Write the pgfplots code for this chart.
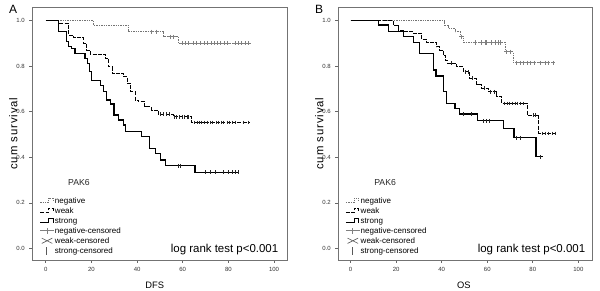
\documentclass[border=0pt]{standalone}
\usepackage{fontspec}
\setmainfont{Liberation Sans}
\newfontfamily\spaced[LetterSpace=8]{Liberation Sans}
\usepackage{pgfplots}
\pgfplotsset{compat=1.18}
\tikzset{
  negline/.style={black!55, line width=0.6pt, dash pattern=on 1pt off 0.8pt},
  weakline/.style={black, line width=0.7pt, dash pattern=on 3pt off 1pt},
  strongline/.style={black, line width=0.9pt},
  negcens/.style={only marks, mark=+, mark size=1.6pt, black!50, mark options={line width=0.4pt, solid}},
  blkcens/.style={only marks, mark=|, mark size=1.4pt, black!85, mark options={line width=0.45pt, solid}},
}
\pgfplotsset{kmaxis/.style={
  scale only axis, height=189.5pt,
  ymin=-0.051, ymax=1.059,
  xtick={0,20,40,60,80,100}, ytick={0,0.2,0.4,0.6,0.8,1},
  yticklabel style={/pgf/number format/.cd, fixed, fixed zerofill, precision=1},
  /pgf/number format/assume math mode=true,
  tick label style={font=\fontsize{4.5}{5}\selectfont, text=black!80},
  tick align=outside, tick pos=left, major tick length=2.2pt,
  every tick/.style={black!60, line width=0.5pt},
  axis line style={black!55, line width=0.6pt},
  ylabel={\spaced cum survival},
  ylabel style={font=\fontsize{8.5}{10}\selectfont, at={(axis description cs:-0.0745,0.5)}, anchor=center},
  xlabel style={font=\fontsize{7}{8}\selectfont, anchor=center},
  legend style={draw=none, fill=none, font=\fontsize{6}{7}\selectfont,
    nodes={inner sep=0.6pt, text height=4.8pt, text depth=1.2pt}, row sep=0.3pt, anchor=north west},
  legend cell align=left,
  clip=false,
}}
\newcommand{\kmlegend}{%
  \addlegendimage{negline, legend image code/.code={\draw[negline] (0cm,-0.05cm) -- (0.22cm,-0.05cm) -- (0.22cm,0.07cm) -- (0.34cm,0.07cm) -- (0.34cm,0.0cm);}}
  \addlegendentry{negative}
  \addlegendimage{weakline, legend image code/.code={\draw[weakline] (0cm,-0.05cm) -- (0.22cm,-0.05cm) -- (0.22cm,0.07cm) -- (0.34cm,0.07cm) -- (0.34cm,0.0cm);}}
  \addlegendentry{weak}
  \addlegendimage{strongline, legend image code/.code={\draw[strongline] (0cm,-0.05cm) -- (0.22cm,-0.05cm) -- (0.22cm,0.07cm) -- (0.34cm,0.07cm) -- (0.34cm,-0.05cm);}}
  \addlegendentry{strong}
  \addlegendimage{black!50, line width=0.45pt, legend image code/.code={\draw[black!50, line width=0.45pt] (0cm,0cm) -- (0.36cm,0cm) (0.18cm,-0.08cm) -- (0.18cm,0.08cm);}}
  \addlegendentry{negative-censored}
  \addlegendimage{black!65, line width=0.45pt, legend image code/.code={\draw[black!65, line width=0.45pt] (0.04cm,-0.07cm) -- (0.32cm,0.07cm) (0.04cm,0.07cm) -- (0.32cm,-0.07cm);}}
  \addlegendentry{weak-censored}
  \addlegendimage{black!65, line width=0.45pt, legend image code/.code={\path[draw=none] (0cm,0cm) rectangle (0.36cm,0.01cm); \draw[black!65, line width=0.45pt] (0.17cm,-0.1cm) -- (0.17cm,0.1cm);}}
  \addlegendentry{strong-censored}
}
\begin{document}
\begin{tikzpicture}
\path[use as bounding box] (0,0) rectangle (450pt,218.25pt);
% ---------------- Panel A ----------------
\begin{axis}[kmaxis, at={(24.225pt,23.25pt)}, anchor=south west,
  width=191.25pt, xmin=-5.9, xmax=105.8, xlabel={DFS},
  xlabel style={at={(axis description cs:0.48,-0.099)}},
  legend style={at={(axis description cs:0.012,0.265)}}]
\addplot[negline, const plot, forget plot] coordinates {(0,1)(20.9,0.98)(36.2,0.952)(51.5,0.93)(58.1,0.901)(88.8,0.901)};
\addplot[weakline, const plot, forget plot] coordinates {(0,1)(5.5,0.989)(9.9,0.937)(12,0.927)(16.5,0.90)(18,0.871)(19.4,0.854)(26.0,0.835)(27.5,0.798)(29.0,0.769)(34.0,0.754)(35.7,0.725)(37.2,0.688)(39.1,0.652)(40.5,0.644)(43.4,0.622)(46.3,0.608)(49.2,0.590)(55.8,0.578)(64.0,0.553)(89.5,0.553)};
\addplot[strongline, const plot, forget plot] coordinates {(0,1)(5.5,0.952)(9.2,0.908)(9.9,0.886)(11.4,0.879)(12.8,0.857)(17.2,0.835)(18.2,0.813)(19.1,0.776)(20.1,0.739)(23.8,0.717)(25.2,0.688)(26.7,0.652)(28.2,0.634)(29.9,0.586)(32,0.564)(34.0,0.542)(35.0,0.512)(42.0,0.490)(45.4,0.439)(47.9,0.417)(50.1,0.388)(52.3,0.363)(65.4,0.334)(84.4,0.334)};
\addplot[negcens, forget plot] coordinates {(46.4,0.952)(48.6,0.952)(54.5,0.93)(55.9,0.93)(59.6,0.901)(61.0,0.901)(62.5,0.901)(64.7,0.901)(66.1,0.901)(67.6,0.901)(69.3,0.901)(70.8,0.901)(72.3,0.901)(73.7,0.901)(75.2,0.901)(76.6,0.901)(78.1,0.901)(79.6,0.901)(82.9,0.901)(84.4,0.901)(85.8,0.901)(87.3,0.901)(88.8,0.901)};
\addplot[blkcens, forget plot] coordinates {(50.2,0.590)(51.5,0.590)(52.8,0.590)(54.0,0.590)(56.5,0.578)(57.3,0.578)(58.5,0.578)(59.6,0.578)(60.5,0.578)(61.8,0.578)(62.6,0.578)(65.0,0.553)(66.2,0.553)(67.1,0.553)(68.0,0.553)(69.3,0.553)(70.7,0.553)(72.0,0.553)(73.1,0.553)(74.5,0.553)(75.5,0.553)(76.7,0.553)(77.9,0.553)(79.4,0.553)(80.6,0.553)(81.5,0.553)(83.0,0.553)(86.5,0.553)(88.5,0.553)};
\addplot[blkcens, forget plot] coordinates {(58.1,0.363)(58.8,0.363)(69.8,0.334)(72.0,0.334)(74.2,0.334)(77.8,0.334)(80.0,0.334)(81.5,0.334)(82.9,0.334)(84.4,0.334)};
\kmlegend
\node[font=\fontsize{6.5}{7}\selectfont, text=black!85] at (axis description cs:0.183,0.305) {PAK6};
\node[font=\fontsize{8.6}{10}\selectfont, anchor=base east] at (axis description cs:0.983,0.030) {log rank test p<0.001};
\node[font=\fontsize{9}{10}\selectfont] at (axis description cs:-0.075,0.99) {A};
\end{axis}
% ---------------- Panel B ----------------
\begin{axis}[kmaxis, at={(253.725pt,23.25pt)}, anchor=south west,
  width=190.8pt, xmin=-5.4, xmax=106.3, xlabel={OS},
  xlabel style={at={(axis description cs:0.494,-0.099)}},
  legend style={at={(axis description cs:0.011,0.265)}}]
\addplot[negline, const plot, forget plot] coordinates {(0,1)(41.4,0.981)(42.9,0.967)(45.8,0.952)(48.0,0.930)(49.5,0.905)(67.8,0.864)(71.4,0.816)(89.7,0.816)};
\addplot[weakline, const plot, forget plot] coordinates {(0,1)(18.7,0.981)(20.9,0.959)(23.1,0.952)(27.5,0.945)(31.2,0.918)(33.4,0.904)(37.8,0.886)(39.2,0.871)(40.7,0.849)(41.7,0.827)(42.5,0.813)(46.5,0.798)(49.5,0.776)(52.4,0.747)(55.3,0.718)(57.6,0.703)(60.5,0.688)(64.1,0.666)(66.3,0.637)(77.6,0.586)(82.7,0.505)(89.7,0.505)};
\addplot[strongline, const plot, forget plot] coordinates {(0,1)(12.1,0.981)(16.5,0.952)(23.1,0.930)(27.5,0.904)(30.1,0.857)(36.3,0.784)(37.5,0.757)(40.7,0.688)(42.2,0.637)(45.8,0.615)(47.7,0.590)(55.6,0.561)(67.3,0.527)(71.7,0.486)(81.4,0.402)(84.6,0.402)};
\addplot[negcens, forget plot] coordinates {(48.7,0.930)(54.6,0.905)(57.5,0.905)(59.0,0.905)(59.7,0.905)(61.9,0.905)(63.4,0.905)(64.8,0.905)(65.6,0.905)(68.5,0.864)(69.9,0.864)(72.9,0.816)(74.5,0.816)(76.0,0.816)(77.4,0.816)(79.0,0.816)(80.5,0.816)(83.1,0.816)(85.3,0.816)(86.8,0.816)(89.0,0.816)};
\addplot[blkcens, forget plot] coordinates {(44.0,0.813)(50.5,0.776)(51.5,0.776)(53.5,0.747)(58.5,0.703)(61.5,0.688)(63.0,0.688)(67.5,0.637)(68.6,0.637)(69.5,0.637)(71.0,0.637)(72.5,0.637)(73.4,0.637)(74.5,0.637)(76.0,0.637)(80.0,0.586)(81.0,0.586)(84.0,0.505)(85.5,0.505)(87.0,0.505)(88.5,0.505)(89.7,0.505)};
\addplot[blkcens, forget plot] coordinates {(49.5,0.590)(53.1,0.590)(58.2,0.561)(59.7,0.561)(61.0,0.561)(72.8,0.486)(74.3,0.486)(83.5,0.402)};
\kmlegend
\node[font=\fontsize{6.5}{7}\selectfont, text=black!85] at (axis description cs:0.184,0.305) {PAK6};
\node[font=\fontsize{8.6}{10}\selectfont, anchor=base east] at (axis description cs:0.989,0.030) {log rank test p<0.001};
\node[font=\fontsize{9}{10}\selectfont] at (axis description cs:-0.075,0.99) {B};
\end{axis}
\end{tikzpicture}
\end{document}
